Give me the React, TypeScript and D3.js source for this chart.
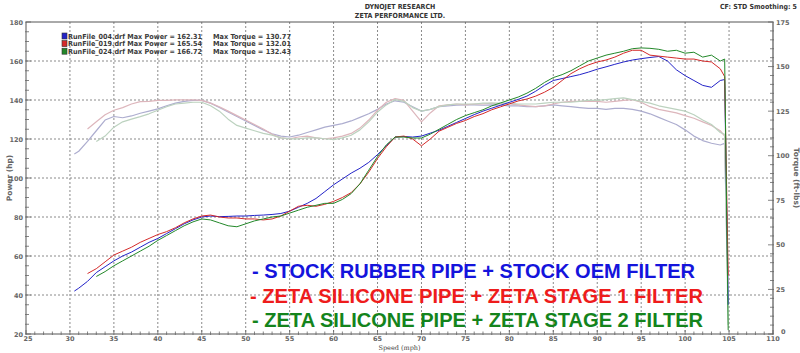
import React from 'react';
import * as d3 from 'd3';

// speed grid shared by every run (mph)
const speeds = [30.5, 31, 32, 33, 34, 35, 36, 37, 38, 39, 40, 41, 42, 43, 44, 45, 46, 47, 48, 49, 50,
  51, 52, 53, 54, 55, 56, 57, 58, 59, 60, 61, 62, 63, 64, 65, 66, 67, 68, 69, 70,
  71, 72, 73, 74, 75, 76, 77, 78, 79, 80, 81, 82, 83, 84, 85, 86, 87, 88, 89, 90,
  91, 92, 93, 94, 95, 96, 97, 98, 99, 100, 101, 102, 103, 104, 104.5, 104.9];

const _ = null;

// power (hp)
const bluePower = [42, 43.5, 47, 51.5, 54.5, 57.5, 60, 62, 64.5, 67, 69, 71.5, 74, 76.5, 78.5, 80, 80.5, 80.2, 80.3, 80.5, 80.5,
  80.8, 81, 81.3, 81.8, 83, 85, 87, 89.5, 93, 96.5, 99.5, 102.5, 105, 108, 112, 116.5, 121, 121.3, 121, 121.5,
  123, 124.5, 126.5, 128.5, 130.5, 132.5, 134.3, 135.8, 137.3, 138.8, 140.3, 142, 144.5, 147.5, 150, 151, 152, 153, 154.3, 155.8,
  157, 158.3, 159.5, 160.5, 161.2, 161.8, 162.3, 160, 155.5, 152.5, 150, 147.5, 146.5, 150, 150.5, 35];
const redPower = [_, _, 51, 53.5, 57, 60.5, 62.5, 64.5, 67, 69, 71, 72.5, 74.5, 77, 79, 80.5, 81, 80, 79.5, 79.5, 79,
  79, 78.5, 79, 80.5, 83, 85.5, 86, 85.5, 86.5, 88, 90, 92.5, 97, 103, 110, 116, 121, 121.5, 120, 116.5,
  120, 124, 126, 128, 129.5, 131.5, 133, 135, 136.5, 138, 139.5, 140.5, 142, 144, 146.5, 150, 153.5, 156, 158, 159.5,
  160.5, 162, 164, 165.5, 165.5, 163, 162.5, 162, 161.5, 161, 161, 160, 159.5, 156, 152, 50];
const greenPower = [_, _, _, 49.5, 52, 55, 57.5, 60, 62.5, 65, 68, 70.5, 73, 75.5, 77.5, 79, 78.5, 77, 75.5, 75, 76.5,
  78, 79, 80, 80.5, 82, 83.5, 85, 86, 87, 87, 89, 92, 97, 104, 111, 117, 121, 121, 120.5, 120.5,
  122.5, 125, 127.5, 130, 132, 133.5, 135, 137, 138.5, 140, 141.5, 143.5, 146, 149, 151.5, 153, 155, 157.5, 160, 161.5,
  163, 164, 165, 166.3, 166.7, 166.5, 166, 165, 165.5, 164, 164.5, 162, 163, 160, 161, 22];

// torque (ft-lbs)
const blueTorque = [101, 102.5, 108, 114, 120, 122, 121.3, 122.3, 123.8, 125, 126.3, 128, 129.5, 130.5, 131, 131, 129.5, 127, 124.5, 122, 119.5,
  117, 114.5, 112.3, 111, 110.5, 111.5, 113, 114.5, 116, 117, 118, 119.5, 121.5, 123.5, 126, 129, 130.8, 130, 127.5, 125,
  126, 127.5, 128, 128.3, 128.5, 128.5, 128.3, 128.5, 128.3, 128, 128, 127.5, 127.5, 128, 128.5, 128, 127.5, 127, 126.5, 126.5,
  126, 126.5, 126.5, 126, 125, 123.5, 121.5, 119.5, 117.5, 114.5, 111, 108.5, 107, 106, 107, 18];
const redTorque = [_, _, 115, 119, 123, 125.5, 127, 129, 130.3, 130.5, 131, 131, 131.3, 131.3, 131.3, 131, 129.5, 127.5, 125, 122.5, 120,
  117.5, 115, 112, 110, 109.5, 110.5, 111, 110, 109.5, 110, 111, 112.5, 115.5, 120, 125.5, 130, 132, 131, 125, 119,
  124, 128, 128.5, 129, 128.5, 129, 129, 129.5, 129, 129, 128.5, 128, 127.5, 128, 129, 130, 130.5, 130.5, 130.5, 130.5,
  130, 130.5, 131, 131.5, 130, 127.5, 126, 125, 124, 122.5, 121, 119, 117, 114, 111, 28];
const greenTorque = [_, _, _, 108, 111, 116, 119, 120.5, 121.9, 123.5, 125.5, 127.5, 129, 129.5, 130, 130, 128, 125, 120.5, 117, 115.5,
  114, 112.5, 111.5, 110, 109.5, 109.5, 110, 110, 109.5, 109, 110, 111.5, 114.5, 119, 124.5, 128.5, 131.5, 130.5, 127, 125,
  126, 127.5, 128.5, 129, 129, 129, 129.5, 129.5, 129.5, 129.5, 129, 129, 129, 129.5, 130, 130, 130, 130.5, 131, 131,
  131.5, 132, 132.4, 131.5, 130.5, 129.5, 128, 127, 126, 125, 123, 120, 117.5, 113, 112, 5];

const runFiles = ['RunFile_004.drf', 'RunFile_019.drf', 'RunFile_024.drf'];
const maxPower = ['162.31', '165.54', '166.72'];
const maxTorque = ['130.77', '132.01', '132.43'];
const runColors = ['#2323c8', '#d42a2a', '#23882a'];
const torqueColors = ['#adadcf', '#ddb6bc', '#bcd2bf'];
const notes = ['- STOCK RUBBER PIPE + STOCK OEM FILTER', '- ZETA SILICONE PIPE + ZETA STAGE 1 FILTER', '- ZETA SILICONE PIPE + ZETA STAGE 2 FILTER'];
const noteColors = ['#1414dc', '#ee1c1c', '#14841c'];

const speedTicks = [25, 30, 35, 40, 45, 50, 55, 60, 65, 70, 75, 80, 85, 90, 95, 100, 105, 110];
const powerTicks = [20, 40, 60, 80, 100, 120, 140, 160, 180];
const torqueTicks = [0, 25, 50, 75, 100, 125, 150, 175];

const W = 800, H = 353;
const L = 26, R = 773, T = 22, B = 334;

export default function App() {
  const x = d3.scaleLinear().domain([25, 110]).range([L, R]);
  const yP = d3.scaleLinear().domain([20, 180]).range([B, T]);
  const yT = d3.scaleLinear().domain([0, 175]).range([B, T]);

  const mk = (vals: (number | null)[], y: d3.ScaleLinear<number, number>) =>
    d3.line<number>()
      .defined((_d, i) => vals[i] != null)
      .x((_d, i) => x(speeds[i]))
      .y((_d, i) => y(vals[i] as number))(speeds as any) || '';

  const powers = [bluePower, redPower, greenPower];
  const torques = [blueTorque, redTorque, greenTorque];

  const minorX = d3.range(25, 111, 1);
  const minorP = d3.range(20, 181, 5);
  const minorT = d3.range(0, 176, 5);
  const tickFont = { fontFamily: 'DejaVu Sans', fontSize: 6.5, fontWeight: 700, fill: '#666' } as const;
  const hdrFont = { fontFamily: 'DejaVu Sans Condensed, DejaVu Sans', fontSize: 7, fontWeight: 700, fill: '#333' } as const;

  return (
    <svg width={W} height={H} style={{ position: 'absolute', left: 0, top: 0, background: '#fff' }}>
      <rect width={W} height={H} fill="#fff" />
      {/* header */}
      <text x={400} y={9} textAnchor="middle" {...hdrFont}>DYNOJET RESEARCH</text>
      <text x={400} y={18} textAnchor="middle" {...hdrFont}>ZETA PERFORMANCE LTD.</text>
      <text x={797} y={9} textAnchor="end" {...hdrFont}>CF: STD  Smoothing: 5</text>

      {/* grid */}
      <g stroke="#8a8a8a" strokeWidth={1} strokeDasharray="2,2">
        {speedTicks.filter(s => s > 25 && s < 110).map(s => (
          <line key={'gx' + s} x1={x(s)} x2={x(s)} y1={T} y2={B} />
        ))}
        {powerTicks.filter(p => p > 20 && p < 180).map(p => (
          <line key={'gy' + p} x1={L} x2={R} y1={yP(p)} y2={yP(p)} />
        ))}
      </g>

      {/* frame */}
      <line x1={L} x2={R} y1={T} y2={T} stroke="#555" strokeWidth={1} />
      <line x1={L} x2={L} y1={T} y2={B} stroke="#555" strokeWidth={1} />
      <line x1={R} x2={R} y1={T} y2={B} stroke="#777" strokeWidth={1.5} />
      <line x1={L} x2={R} y1={B} y2={B} stroke="#555" strokeWidth={1} />

      {/* ticks */}
      <g stroke="#666" strokeWidth={0.8}>
        {minorX.map(s => (
          <line key={'tx' + s} x1={x(s)} x2={x(s)} y1={B + 1} y2={B - (s % 5 === 0 ? 4 : 2.5)} />
        ))}
        {minorP.map(p => (
          <line key={'tp' + p} x1={L - 1} x2={L + (p % 20 === 0 ? 5 : 3)} y1={yP(p)} y2={yP(p)} />
        ))}
        {minorT.map(t => (
          <line key={'tt' + t} x1={R + 1} x2={R - (t % 25 === 0 ? 5 : 3)} y1={yT(t)} y2={yT(t)} />
        ))}
      </g>

      {/* tick labels */}
      {speedTicks.map(s => (
        <text key={'lx' + s} x={x(s) + (s === 25 ? 2 : 0)} y={B + 7} textAnchor="middle" {...tickFont}>{s}</text>
      ))}
      {powerTicks.map(p => (
        <text key={'lp' + p} x={L - 3} y={yP(p) + 2.5} textAnchor="end" {...tickFont}>{p}</text>
      ))}
      {torqueTicks.map(t => (
        <text key={'lt' + t} x={R + (t === 0 ? 8 : 3)} y={yT(t) + (t === 0 ? 0 : 2.5)} textAnchor="start" {...tickFont}>{t}</text>
      ))}

      {/* axis titles */}
      <text transform={`translate(12,${(T + B) / 2}) rotate(-90)`} textAnchor="middle" {...tickFont} fontSize={7.5}>Power (hp)</text>
      <text transform={`translate(794,${(T + B) / 2}) rotate(90)`} textAnchor="middle" {...tickFont} fontSize={7.5}>Torque (ft-lbs)</text>
      <text x={(L + R) / 2} y={350} textAnchor="middle" fontFamily="DejaVu Serif" fontSize={6.5} fill="#444">Speed (mph)</text>

      {/* legend */}
      {runFiles.map((f, i) => (
        <g key={f}>
          <rect x={62} y={33 + i * 7.6} width={5} height={6} fill={runColors[i]} stroke="#333" strokeWidth={0.6} />
          <text x={68} y={38.5 + i * 7.6} {...hdrFont} fill="#3a3a3a" textLength={134} lengthAdjust="spacingAndGlyphs">
            {`${f} Max Power = ${maxPower[i]}`}
          </text>
          <text x={213} y={38.5 + i * 7.6} {...hdrFont} fill="#3a3a3a" textLength={78} lengthAdjust="spacingAndGlyphs">
            {`Max Torque = ${maxTorque[i]}`}
          </text>
        </g>
      ))}

      {/* torque curves */}
      <g fill="none" strokeWidth={1.2} strokeLinejoin="round">
        {torques.map((t, i) => (
          <path key={'tq' + i} d={mk(t, yT)} stroke={torqueColors[i]} />
        ))}
      </g>
      {/* power curves */}
      <g fill="none" strokeWidth={1} strokeLinejoin="round">
        {powers.map((p, i) => (
          <path key={'pw' + i} d={mk(p, yP)} stroke={runColors[i]} />
        ))}
      </g>

      {/* annotations */}
      {notes.map((n, i) => (
        <text key={n} x={[252, 250, 252][i]} y={[278, 303, 327][i]} fill={noteColors[i]}
          fontFamily="Liberation Sans, Arial" fontWeight={700} fontSize={19.5}
          textLength={[443, 453, 451][i]} lengthAdjust="spacingAndGlyphs">{n}</text>
      ))}
    </svg>
  );
}
